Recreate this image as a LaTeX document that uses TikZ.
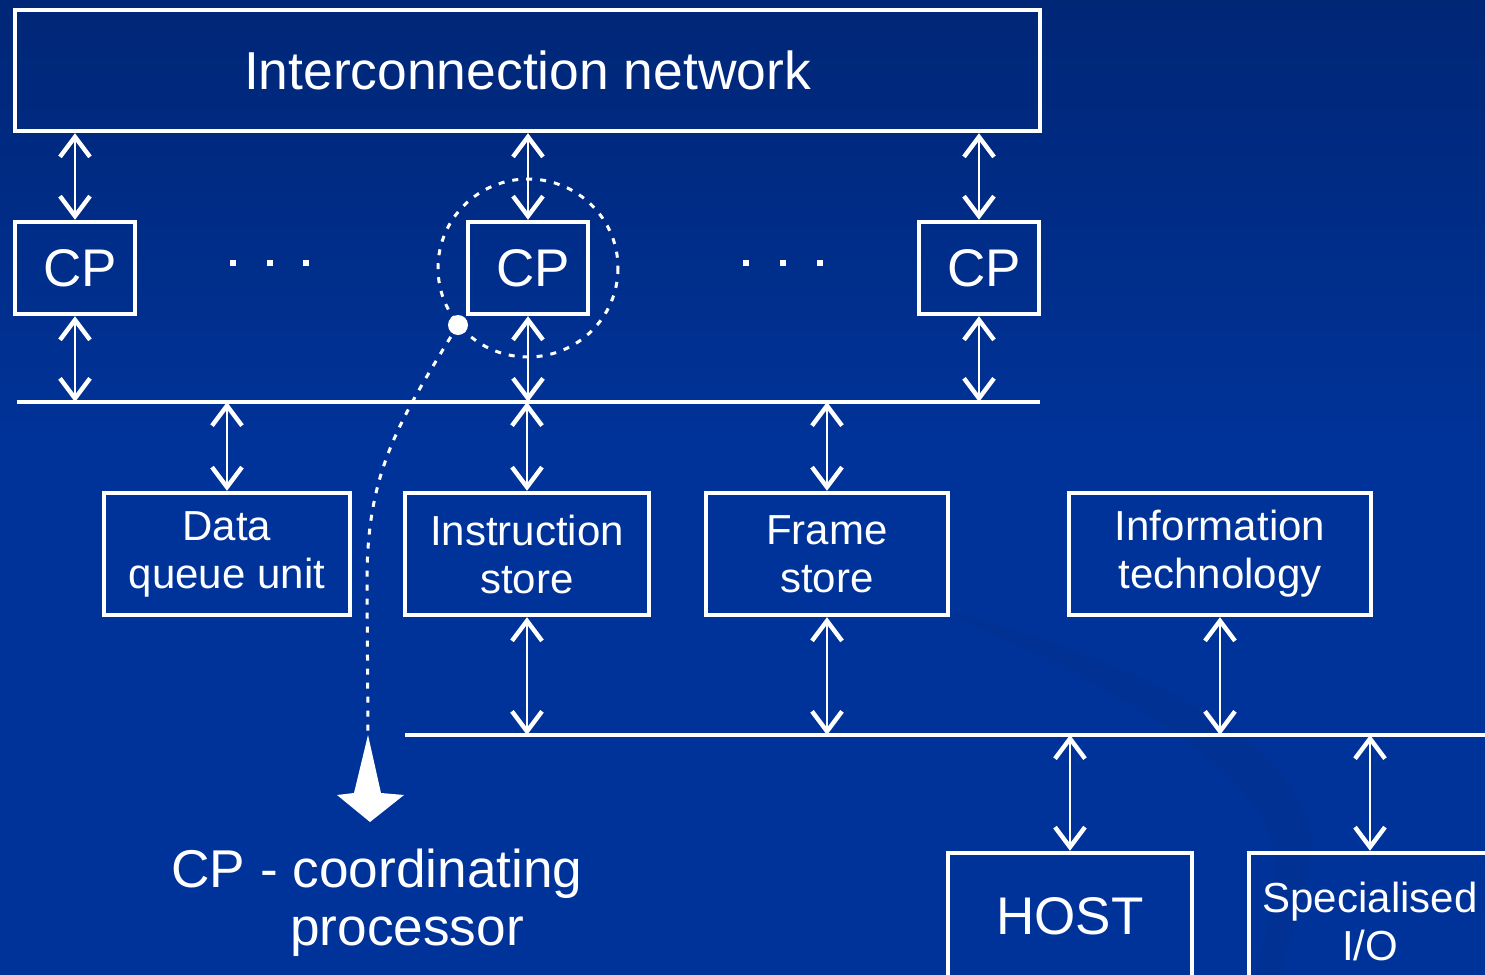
\documentclass[tikz,border=0pt]{standalone}
\usepackage{fontspec}
\setmainfont{Liberation Sans}
\usetikzlibrary{arrows.meta}
\definecolor{slide}{RGB}{0,51,153}
\definecolor{slidetop}{RGB}{0,38,118}
\colorlet{slidedark}{slide!80!black}

\begin{document}
\begin{tikzpicture}[x=0.5pt, y=-0.5pt, white,
    unit box/.style={draw=white, line width=2.2pt, inner sep=0pt, align=center,
      minimum width=#1, minimum height=61pt, font=\fontsize{21}{24}\selectfont},
    cp box/.style={draw=white, line width=2.2pt, inner sep=0pt,
      minimum width=60pt, minimum height=46pt, font=\fontsize{26.5}{30}\selectfont},
    bus/.style={line width=2pt},
    link/.style={line width=1.4pt,
      {Straight Barb[length=10pt,width=15pt,line width=2.2pt]}-{Straight Barb[length=10pt,width=15pt,line width=2.2pt]}},
    dotted link/.style={line width=1.5pt, dash pattern=on 3pt off 4pt}
  ]
  \path [use as bounding box] (0,0) rectangle (1485,975);
  \clip (0,0) rectangle (1485,975);

  % slide background
  \shade [top color=slidetop, bottom color=slide] (0,0) rectangle (1485,451);
  \fill [slide] (0,450) rectangle (1485,975);
  \fill [slidedark, opacity=.18] (940,610) .. controls (1150,660) and (1330,760) .. (1310,860)
    .. controls (1300,920) and (1285,950) .. (1280,975) -- (1255,975)
    .. controls (1268,930) and (1278,880) .. (1274,850)
    .. controls (1255,760) and (1100,680) .. cycle;

  \node [draw=white, line width=2.2pt, minimum width=512.5pt, minimum height=60.5pt,
    font=\fontsize{26.7}{30}\selectfont] (net) at (527.5,70.5) {Interconnection network};

  \node [cp box] (cpl) at (75,268) {\hspace*{5pt}CP};
  \node [cp box] (cpm) at (528,268) {\hspace*{5pt}CP};
  \node [cp box] (cpr) at (979,268) {\hspace*{5pt}CP};

  \foreach \x in {233,270,306,746,783,820}
    \fill (\x-3,260) rectangle ++(6,6);

  \coordinate (bus1l) at (17,402);
  \coordinate (bus1r) at (1040,402);
  \coordinate (bus2l) at (405,735);
  \coordinate (bus2r) at (1485,735);
  \draw [bus] (bus1l) -- (bus1r);
  \draw [bus] (bus2l) -- (bus2r);

  \node [unit box=123pt] (dqu) at (227,554) {Data\\queue unit};
  \node [unit box=122pt] (ins) at (527,554) {Instruction\\store};
  \node [unit box=121pt] (frs) at (827,554) {Frame\\store};
  \node [unit box=151pt] (inf) at (1220,554) {Information\\technology};
  \node [unit box=122pt, minimum height=68.5pt, font=\fontsize{26.5}{30}\selectfont] (host) at (1070,921.5) {\raisebox{6pt}{HOST}};
  \node [unit box=121pt, minimum height=68.5pt] (sio) at (1370,921.5) {Specialised\\I/O};

  \foreach \n in {cpl,cpm,cpr} {
    \draw [link] (net.south -| \n) -- (\n.north);
    \draw [link] (\n.south) -- (\n.south |- bus1l);
  }
  \foreach \n in {dqu,ins,frs}
    \draw [link] (\n.north |- bus1l) -- (\n.north);
  \foreach \n in {ins,frs,inf}
    \draw [link] (\n.south) -- (\n.south |- bus2l);
  \foreach \n in {host,sio}
    \draw [link] (\n.north |- bus2l) -- (\n.north);

  % coordinating processor callout
  \draw [dotted link] (cpm) circle [x radius=90, y radius=89];
  \coordinate (spot) at (458,325);
  \coordinate (arrtop) at (368,735);
  \draw [dotted link] (spot) .. controls (400,420) and (367,470) .. (367,580) -- (arrtop);
  \fill (spot) circle [radius=10];
  \fill (arrtop) -- (381,793) -- (404,795) -- (370,822) -- (337,795) -- (354,793) -- cycle;

  \node [align=center, font=\fontsize{26.6}{29}\selectfont] (legend) at (377,903)
    {CP - coordinating\\\hspace*{30pt}processor};
\end{tikzpicture}
\end{document}
